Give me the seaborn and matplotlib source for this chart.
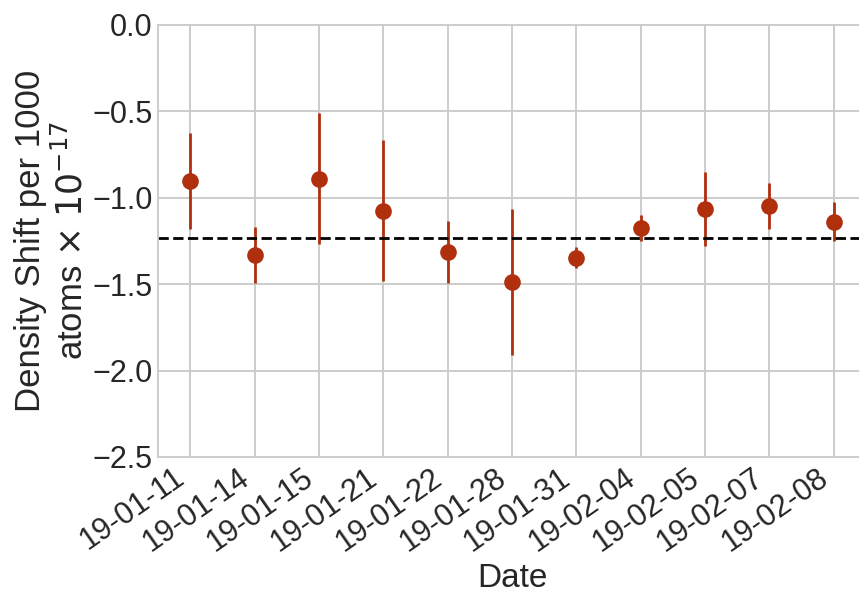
import matplotlib
matplotlib.use("Agg")
import matplotlib.pyplot as plt
import seaborn as sns
import pandas as pd

dates = ['19-01-11', '19-01-14', '19-01-15', '19-01-21', '19-01-22', '19-01-28',
         '19-01-31', '19-02-04', '19-02-05', '19-02-07', '19-02-08']
shift = [-0.905, -1.331, -0.889, -1.074, -1.312, -1.485, -1.346, -1.177, -1.065, -1.047, -1.138]
shift_err = [0.278, 0.161, 0.377, 0.408, 0.179, 0.423, 0.06, 0.075, 0.215, 0.133, 0.111]
mean_shift = -1.233

sns.set_theme(style='whitegrid', context='poster')
plt.rcParams['font.family'] = ['Liberation Sans', 'DejaVu Sans']
plt.rcParams['grid.linewidth'] = 1.4
plt.rcParams['axes.linewidth'] = 1.4

df = pd.DataFrame({'Date': dates, 'shift': shift, 'err': shift_err})
color = '#B0300E'

fig = plt.figure(figsize=(8.59, 5.97), dpi=100)
ax = fig.add_axes([158 / 859, 140 / 597, 708 / 859, 432 / 597])

ax.errorbar(df['Date'], df['shift'], yerr=df['err'], fmt='none', ecolor=color,
            elinewidth=2, capsize=0, zorder=2)
sns.scatterplot(data=df, x='Date', y='shift', color=color, s=144, edgecolor=color,
                linewidth=0, zorder=3, ax=ax)
ax.axhline(mean_shift, color='black', linestyle='--', linewidth=2, zorder=2.5)

ax.set_xlim(-0.5, 10.5)
ax.set_ylim(-2.5, 0)
ax.set_xlabel('Date', fontsize=24, labelpad=4)
ax.set_ylabel('Density Shift per 1000\natoms $\\times$ $10^{-17}$', fontsize=25, labelpad=2)
ax.tick_params(axis='both', labelsize=22, length=0, pad=4)
plt.setp(ax.get_xticklabels(), rotation=35, ha='right')

fig.savefig('out.png', dpi=100)
